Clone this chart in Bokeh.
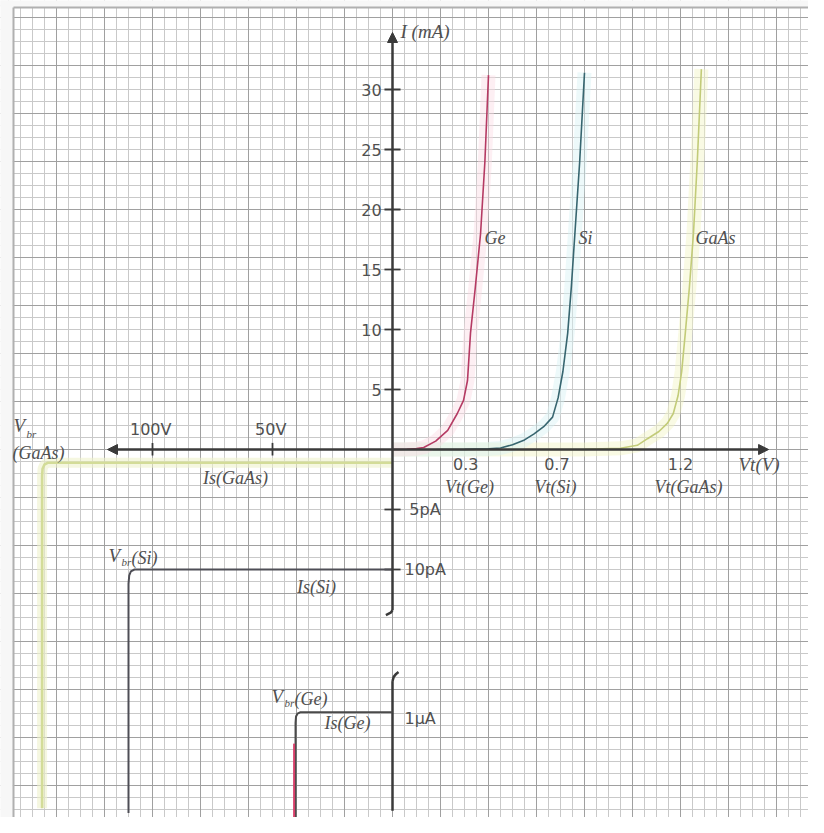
import numpy as np
from bokeh.plotting import figure
from bokeh.models import Range1d, Grid, FixedTicker, Arrow, NormalHead, ColumnDataSource
from bokeh.core.properties import value
from bokeh.embed import file_html
from bokeh.resources import INLINE

# ---------------- data ----------------
# forward characteristics: voltage (V) and current (mA)
ge_fwd_v = [0.0, 0.06, 0.10, 0.13, 0.18, 0.23, 0.27, 0.296, 0.3125, 0.325, 0.345, 0.367, 0.385, 0.40]
ge_fwd_i = [0.0, 0.02, 0.07, 0.17, 0.7, 1.6, 3.0, 4.1, 5.75, 9.7, 13.5, 18.0, 24.0, 31.2]
si_fwd_v = [0.0, 0.30, 0.40, 0.45, 0.50, 0.55, 0.59, 0.63, 0.667, 0.69, 0.71, 0.73, 0.745, 0.76, 0.78, 0.80]
si_fwd_i = [0.0, 0.01, 0.05, 0.12, 0.4, 0.8, 1.3, 1.9, 2.7, 4.3, 6.5, 9.7, 13.5, 18.0, 24.0, 31.4]
gaas_fwd_v = [0.0, 0.80, 0.95, 1.02, 1.0625, 1.11, 1.146, 1.17, 1.19, 1.205, 1.22, 1.237, 1.254, 1.27, 1.287]
gaas_fwd_i = [0.0, 0.01, 0.1, 0.35, 0.9, 1.5, 2.2, 3.0, 4.5, 6.5, 9.7, 13.5, 18.0, 24.0, 31.7]

# reverse characteristics: voltage (V), current (pA, Ge in uA)
gaas_rev_v = [0.0, -143.5, -145.0, -145.8, -146.0, -146.0]
gaas_rev_i = [1.1, 1.1, 1.25, 1.6, 2.2, 29.9]
si_rev_v = [0.0, -107.5, -109.0, -109.7, -110.0, -110.0]
si_rev_i = [10.0, 10.0, 10.15, 10.5, 11.2, 30.3]
ge_rev_v = [0.0, -38.5, -39.6, -40.2, -40.4, -40.4]
ge_rev_i = [1.0, 1.0, 1.04, 1.12, 1.3, 4.25]

fwd_i_ticks = [5, 10, 15, 20, 25, 30]           # mA
rev_i_ticks = [5, 10]                           # pA
rev_i_tick_labels = ["5pA", "10pA"]
rev_v_ticks = [-100, -50]                       # V
rev_v_tick_labels = ["100V", "50V"]
fwd_v_ticks = [0.3, 0.7, 1.2]
fwd_v_tick_labels = ["0.3", "0.7", "1.2"]
vt_labels = ["Vt(Ge)", "Vt(Si)", "Vt(GaAs)"]

# ---------------- scales (graph-paper cells) ----------------
W, H = 808, 817
CELL = 12.0
OX, OY = 392, 449            # figure px of the axes crossing
FWD_V = 20.0                 # cells per volt (forward)
REV_V = 0.2                  # cells per volt (reverse)
FWD_I = 1.0                  # cells per mA
REV_PA = 1.0                 # cells per pA
UA_ZERO = -19.0              # top of the uA sub-axis (cells)
UA_SCALE = 2.9               # cells per uA


def fx(v):
    v = np.asarray(v, dtype=float)
    return np.where(v >= 0, v * FWD_V, v * REV_V)


def P(px, py):
    """reference-picture pixel -> cell units (for text placement)"""
    return ((px - OX) / CELL, (OY - py) / CELL)


p = figure(width=W, height=H,
           x_range=Range1d(-OX / CELL, (W - OX) / CELL),
           y_range=Range1d(-(H - OY) / CELL, OY / CELL),
           x_axis_type=None, y_axis_type=None,
           output_backend="svg", toolbar_location=None,
           min_border=0, outline_line_color=None,
           background_fill_color="white", border_fill_color="white")

# graph paper
minor = [float(k) for k in range(-40, 41)]
major = [float(k) for k in range(-40, 41) if k % 4 == 0]
p.add_layout(Grid(dimension=0, ticker=FixedTicker(ticks=minor), grid_line_color="#c9c9c9", grid_line_width=1))
p.add_layout(Grid(dimension=1, ticker=FixedTicker(ticks=minor), grid_line_color="#c9c9c9", grid_line_width=1))
p.add_layout(Grid(dimension=0, ticker=FixedTicker(ticks=major), grid_line_color="#a0a0a0", grid_line_width=1))
p.add_layout(Grid(dimension=1, ticker=FixedTicker(ticks=major), grid_line_color="#a0a0a0", grid_line_width=1))
lx, ty = P(13, 7)
p.quad(left=[-40], right=[lx - 0.05], bottom=[-40], top=[40], fill_color="#f7f7f7", line_color=None)
p.quad(left=[-40], right=[40], bottom=[ty + 0.05], top=[40], fill_color="#f7f7f7", line_color=None)
p.segment(x0=[lx, lx], y0=[-40, ty], x1=[lx, 40], y1=[ty, ty], line_color="#b0b0b0", line_width=2)

AX = "#3a3a3a"
# main axes
p.add_layout(Arrow(start=NormalHead(size=10, fill_color=AX, line_color=AX),
                   end=NormalHead(size=10, fill_color=AX, line_color=AX),
                   x_start=float(fx(-118.75)), y_start=0, x_end=float(fx(1.567)), y_end=0,
                   line_color=AX, line_width=2.5))
p.add_layout(Arrow(end=NormalHead(size=10, fill_color=AX, line_color=AX),
                   x_start=0, y_start=-13.4, x_end=0, y_end=34.75,
                   line_color=AX, line_width=2.5))
p.line(x=[0, -0.15, -0.55], y=[-13.4, -13.6, -13.8], line_color=AX, line_width=2.5)
# uA sub-axis with break mark
p.line(x=[0, 0], y=[UA_ZERO - 0.3, UA_ZERO - 3.83 * UA_SCALE], line_color=AX, line_width=2.5)
p.line(x=[0, 0.1, 0.3, 0.5], y=[UA_ZERO - 0.3, UA_ZERO + 0.05, UA_ZERO + 0.3, UA_ZERO + 0.45],
       line_color=AX, line_width=2.5)

# ticks
p.segment(x0=[-0.67] * 6, y0=[i * FWD_I for i in fwd_i_ticks], x1=[0.67] * 6,
          y1=[i * FWD_I for i in fwd_i_ticks], line_color=AX, line_width=1.8)
p.segment(x0=[-0.67] * 2, y0=[-i * REV_PA for i in rev_i_ticks], x1=[0.67] * 2,
          y1=[-i * REV_PA for i in rev_i_ticks], line_color=AX, line_width=1.8)
p.segment(x0=list(fx(rev_v_ticks)), y0=[-0.5] * 2, x1=list(fx(rev_v_ticks)), y1=[0.55] * 2,
          line_color=AX, line_width=1.8)

# reverse curves
p.line(x=fx(gaas_rev_v), y=[-i * REV_PA for i in gaas_rev_i], line_color="#eef2cc", line_width=10, line_alpha=0.6)
p.line(x=fx(gaas_rev_v), y=[-i * REV_PA for i in gaas_rev_i], line_color="#d3dc98", line_width=2.6)
p.line(x=fx(si_rev_v), y=[-i * REV_PA for i in si_rev_i], line_color="#4e4e56", line_width=2.0)
ge_ry = [UA_ZERO - i * UA_SCALE for i in ge_rev_i]
p.line(x=fx(ge_rev_v), y=ge_ry, line_color="#4a4a4a", line_width=2.0)
p.line(x=fx(ge_rev_v[-2:]) - 0.12, y=[UA_ZERO - 1.9 * UA_SCALE, ge_ry[-1]], line_color="#d8406a", line_width=2)

# forward curves (glow + line)
for vv, ii, glow, col in [(gaas_fwd_v, gaas_fwd_i, "#f1f5c4", "#c2cb78"),
                          (si_fwd_v, si_fwd_i, "#d6f2f4", "#36656f"),
                          (ge_fwd_v, ge_fwd_i, "#fbdbe4", "#b53a63")]:
    xs = fx(vv)
    ys = [i * FWD_I for i in ii]
    p.line(x=xs, y=ys, line_color=glow, line_width=14, line_alpha=0.45)
    p.line(x=xs, y=ys, line_color=col, line_width=1.6)

SANS = value("DejaVu Sans")
SERIF = value("Liberation Serif")
TXT = "#505050"


def txt(xs, ys, texts, font=SERIF, size="19px", align="left", style="italic", baseline="middle"):
    src = ColumnDataSource(dict(x=list(xs), y=list(ys), t=list(texts)))
    p.text(x="x", y="y", text="t", source=src, text_font=font, text_font_size=size,
           text_font_style=style, text_align=align, text_baseline=baseline, text_color=TXT)


NUM = "16px"
# tick labels
txt([-0.9] * 6, [i * FWD_I for i in fwd_i_ticks], [str(t) for t in fwd_i_ticks],
    font=SANS, size=NUM, align="right", style="normal")
txt([1.4, 1.0], [-i * REV_PA for i in rev_i_ticks], rev_i_tick_labels, font=SANS, size=NUM, style="normal")
txt(list(fx(rev_v_ticks) - 0.15), [0.85, 0.85], rev_v_tick_labels, font=SANS, size=NUM,
    align="center", style="normal", baseline="bottom")
txt(list(fx(fwd_v_ticks) + np.array([0.1, -0.3, 0.0])), [-1.17] * 3, fwd_v_tick_labels, font=SANS,
    size=NUM, align="center", style="normal")
txt([P(469, 0)[0], P(555, 0)[0], P(688, 0)[0]], [P(0, 486)[1]] * 3, vt_labels, size="18px", align="center")
txt([P(738, 0)[0]], [P(0, 464)[1]], ["Vt(V)"], size="19px")
txt([P(400, 0)[0]], [P(0, 31)[1]], ["I (mA)"], size="19px")
txt([1.0], [UA_ZERO - 1.0 * UA_SCALE - 0.5], ["1μA"], font=SANS, size=NUM, style="normal")

# curve labels
txt([P(484, 0)[0], P(578, 0)[0], P(695, 0)[0]], [P(0, 237)[1]] * 3, ["Ge", "Si", "GaAs"], size="18px")

# reverse labels
for (vx, vy), (bx, by), (nx, ny), name in [((13, 425), (26, 433), (12, 452), "(GaAs)"),
                                            ((108, 555), (121, 561), (131, 557), "(Si)"),
                                            ((271, 696), (284, 702), (294, 698), "(Ge)")]:
    txt([P(vx, 0)[0]], [P(0, vy)[1]], ["V"], size="19px")
    txt([P(bx, 0)[0]], [P(0, by)[1]], ["br"], size="11px")
    txt([P(nx, 0)[0]], [P(0, ny)[1]], [name], size="18px")
txt([P(235, 0)[0], P(316, 0)[0], P(347, 0)[0]], [P(0, 477)[1], P(0, 586)[1], P(0, 722)[1]],
    ["Is(GaAs)", "Is(Si)", "Is(Ge)"], size="18px", align="center")

open("out.html", "w").write(file_html(p, INLINE))
